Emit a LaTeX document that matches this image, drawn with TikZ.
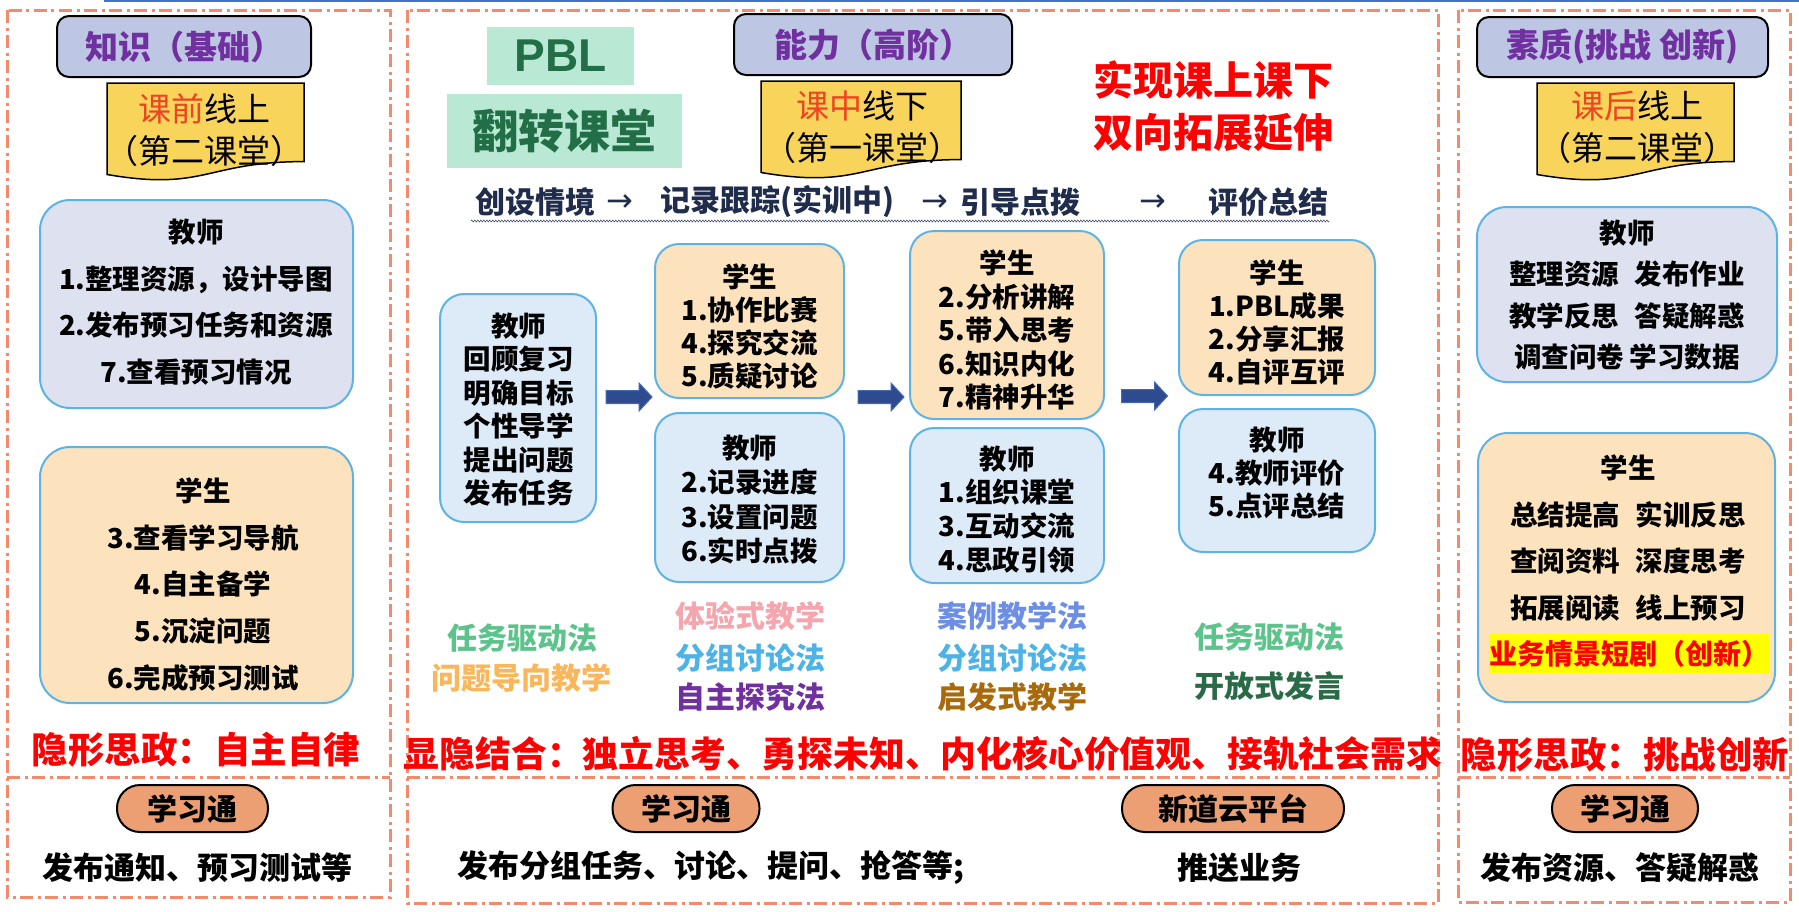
\documentclass[tikz,border=0pt]{standalone}
\usepackage{fontspec}
\setmainfont{Noto Sans CJK SC}
\newfontfamily\arrowfont{DejaVu Sans}
\newfontfamily\latinfont{Liberation Sans}
\usetikzlibrary{decorations.pathmorphing}
\newcommand\myfs[2]{\fontsize{#1}{#2}\selectfont}
\definecolor{dashc}{HTML}{F28A6E}
\definecolor{titlefill}{HTML}{BDC6E2}
\definecolor{titlepurple}{HTML}{7030A0}
\definecolor{docfill}{HTML}{F8D45A}
\definecolor{docred}{HTML}{EE4422}
\definecolor{lavfill}{HTML}{DEE1F0}
\definecolor{peachfill}{HTML}{FCE3BD}
\definecolor{bluefill}{HTML}{DDEAF8}
\definecolor{boxline}{HTML}{5DB3E4}
\definecolor{pblfill}{HTML}{B9E8D5}
\definecolor{pbltext}{HTML}{216E47}
\definecolor{navy}{HTML}{1F2C4C}
\definecolor{arrowfill}{HTML}{2F4B8F}
\definecolor{arrowline}{HTML}{4169B8}
\definecolor{pillfill}{HTML}{EC9F72}
\definecolor{mgreen}{HTML}{5CC38B}
\definecolor{morange}{HTML}{F9B65A}
\definecolor{mpink}{HTML}{F4A5AD}
\definecolor{mblue}{HTML}{4DB2E6}
\definecolor{mpurple}{HTML}{7030A0}
\definecolor{mcorn}{HTML}{6C8FE5}
\definecolor{mbrown}{HTML}{A86A0C}
\definecolor{mdgreen}{HTML}{2A6B47}
\definecolor{topblue}{HTML}{4472C4}
\definecolor{hlyellow}{HTML}{FFFF00}
\definecolor{redc}{HTML}{FF0000}
\tikzset{
  dashbox/.style={draw=dashc, line width=3, dash pattern=on 13pt off 4.5pt on 3pt off 4.5pt},
  titlebox/.style={rectangle, draw=black, line width=2, fill=titlefill, rounded corners=12, inner sep=0, text=titlepurple, font=\myfs{33}{40}\bfseries},
  docshape/.style={draw=black, line width=1.5, fill=docfill},
  doctext/.style={font=\myfs{33}{42}, align=center, inner sep=0},
  rbox/.style={rectangle, draw=boxline, line width=2, rounded corners=24, inner sep=0},
  bigbox/.style={rbox, rounded corners=30},
  boxtext/.style={align=center, inner sep=0},
  redtext/.style={text=redc, font=\myfs{36.5}{40}\bfseries, inner sep=0},
  proc/.style={text=navy, font=\myfs{30}{34}\bfseries, inner sep=0},
  procarrow/.style={text=navy, font=\arrowfont\myfs{32}{34}, inner sep=0},
  method/.style={font=\myfs{30}{34}\bfseries, inner sep=0},
  pill/.style={rectangle, draw=black, line width=2, fill=pillfill, rounded corners=23, inner sep=0, minimum height=47, font=\myfs{30}{34}\bfseries},
  bottomtext/.style={font=\myfs{31}{34}\bfseries, inner sep=0},
  blockarrow/.style={draw=arrowline, line width=1, fill=arrowfill},
  pblbox/.style={rectangle, fill=pblfill, inner sep=0, text=pbltext, font=\myfs{46}{50}\bfseries},
}
\begin{document}
\begin{tikzpicture}[x=1pt,y=-1pt]
\useasboundingbox (0,0) rectangle (1799,911);
\draw[topblue, line width=1.5] (104,0.75) -- (1799,0.75);

% dash-dot frames
\draw[dashbox] (7,10) rectangle (390,897);
\draw[dashbox] (7,777) -- (390,777);
\draw[dashbox] (407,10) rectangle (1438,903);
\draw[dashbox] (407,777) -- (1438,777);
\draw[dashbox] (1458,10) rectangle (1790,902);
\draw[dashbox] (1458,777) -- (1790,777);

% ---------- left column ----------
\node[titlebox, minimum width=254, minimum height=61] (lt) at (184,46.5) {知识（基础）\hspace{18pt}};
\path[docshape] (107,83) -- (304,83) -- (304,161.6) .. controls (205.5,161.6) and (205.5,191.5) .. (107,174.5) -- cycle;
\node[doctext] (ld) at (204,130) {{\color{docred}课前}线上\\（第二课堂）};

\node[bigbox, fill=lavfill, minimum width=313, minimum height=208] (lT) at (196.5,304) {};
\node[boxtext, font=\myfs{27.5}{46.7}\bfseries] (lTt) at (196,302) {教师\\1.整理资源，设计导图\\2.发布预习任务和资源\\7.查看预习情况};
\node[bigbox, fill=peachfill, minimum width=313, minimum height=256] (lS) at (196.5,575) {};
\node[boxtext, font=\myfs{27.5}{46.8}\bfseries] (lSt) at (203,584.5) {学生\\3.查看学习导航\\4.自主备学\\5.沉淀问题\\6.完成预习测试};

\node[redtext] (lr) at (196,750) {隐形思政：自主自律};
\node[pill, minimum width=151] (lp) at (192.5,808.5) {学习通};
\node[bottomtext] (lb) at (197,868) {发布通知、预习测试等};

% ---------- middle column ----------
\node[pblbox, minimum width=147, minimum height=58, font=\latinfont\myfs{46}{50}\bfseries] (pbl) at (560.5,56) {PBL};
\node[pblbox, minimum width=235, minimum height=74] (fz) at (564.5,131) {翻转课堂};
\node[titlebox, minimum width=278, minimum height=61] (mt) at (873,44.5) {能力（高阶）\hspace{22pt}};
\path[docshape] (761,81) -- (961,81) -- (961,159.6) .. controls (861,159.6) and (861,189.5) .. (761,172.5) -- cycle;
\node[doctext] (md) at (862,127.5) {{\color{docred}课中}线下\\（第一课堂）};
\node[text=redc, font=\myfs{40}{52}\bfseries, align=center, inner sep=0] (ext) at (1213,106) {实现课上课下\\双向拓展延伸};

\node[proc] (p1) at (535,202) {创设情境};
\node[procarrow] (pa1) at (620,203) {→};
\node[proc] (p2) at (777,202) {记录跟踪(实训中)};
\node[procarrow] (pa2) at (935,203) {→};
\node[proc] (p3) at (1020,202) {引导点拨};
\node[procarrow] (pa3) at (1153,203) {→};
\node[proc] (p4) at (1268,202) {评价总结};
\coordinate (ul1) at (471,221);
\coordinate (ul2) at (1329,221);
\draw[navy!80, line width=0.6, decorate, decoration={zigzag, segment length=3, amplitude=1}] (ul1) -- (ul2);

\node[rbox, fill=bluefill, minimum width=156, minimum height=228] (mT1) at (518,408) {};
\node[boxtext, font=\myfs{27.5}{33.4}\bfseries] (mT1t) at (518.5,409.5) {教师\\回顾复习\\明确目标\\个性导学\\提出问题\\发布任务};

\node[rbox, fill=peachfill, minimum width=189, minimum height=154] (mS2) at (749.5,321) {};
\node[boxtext, font=\myfs{27.5}{33}\bfseries] (mS2t) at (749.5,326.5) {学生\\1.协作比赛\\4.探究交流\\5.质疑讨论};
\node[rbox, fill=bluefill, minimum width=189, minimum height=169] (mT2) at (749.5,497.5) {};
\node[boxtext, font=\myfs{27.5}{34.3}\bfseries] (mT2t) at (749.5,499.5) {教师\\2.记录进度\\3.设置问题\\6.实时点拨};

\node[rbox, fill=peachfill, minimum width=194, minimum height=188] (mS3) at (1007,325) {};
\node[boxtext, font=\myfs{27.5}{33.5}\bfseries] (mS3t) at (1007,330) {学生\\2.分析讲解\\5.带入思考\\6.知识内化\\7.精神升华};
\node[rbox, fill=bluefill, minimum width=194, minimum height=155] (mT3) at (1007,505.5) {};
\node[boxtext, font=\myfs{27.5}{33.7}\bfseries] (mT3t) at (1007,509.5) {教师\\1.组织课堂\\3.互动交流\\4.思政引领};

\node[rbox, fill=peachfill, minimum width=196, minimum height=155] (mS4) at (1277,317.5) {};
\node[boxtext, font=\myfs{27.5}{33}\bfseries] (mS4t) at (1277,322.5) {学生\\1.PBL成果\\2.分享汇报\\4.自评互评};
\node[rbox, fill=bluefill, minimum width=196, minimum height=143] (mT4) at (1277,480.5) {};
\node[boxtext, font=\myfs{27.5}{33}\bfseries] (mT4t) at (1277,473) {教师\\4.教师评价\\5.点评总结};

% block arrows between the stages
\coordinate (a1) at (629,397);
\coordinate (a2) at (881,397);
\coordinate (a3) at (1144.5,396);
\foreach \c in {a1,a2,a3}{
  \draw[blockarrow, shift={(\c)}] (-23,-6.5) -- (10,-6.5) -- (10,-14) -- (23,0) -- (10,14) -- (10,6.5) -- (-23,6.5) -- cycle;
}

\node[method, text=mgreen] (m1) at (522,638) {任务驱动法};
\node[method, text=morange] (m2) at (521,678) {问题导向教学};
\node[method, text=mpink] (m3) at (750,616) {体验式教学};
\node[method, text=mblue] (m4) at (750,658) {分组讨论法};
\node[method, text=mpurple] (m5) at (750,697) {自主探究法};
\node[method, text=mcorn] (m6) at (1012,616) {案例教学法};
\node[method, text=mblue] (m7) at (1012,658) {分组讨论法};
\node[method, text=mbrown] (m8) at (1012,697) {启发式教学};
\node[method, text=mgreen] (m9) at (1269,637) {任务驱动法};
\node[method, text=mdgreen] (m10) at (1269,686) {开放式发言};

\node[redtext, font=\myfs{35.8}{40}\bfseries] (mr) at (923,754) {显隐结合：独立思考、勇探未知、内化核心价值观、接轨社会需求};
\node[pill, minimum width=147] (mp1) at (686,808.5) {学习通};
\node[bottomtext] (mb1) at (711,868) {发布分组任务、讨论、提问、抢答等;};
\node[pill, minimum width=222] (mp2) at (1233,808.5) {新道云平台};
\node[bottomtext] (mb2) at (1239,868) {推送业务};

% ---------- right column ----------
\node[titlebox, minimum width=291, minimum height=60] (rt) at (1622.5,47) {素质(挑战 创新)};
\path[docshape] (1537,83) -- (1734,83) -- (1734,161.6) .. controls (1635.5,161.6) and (1635.5,191.5) .. (1537,174.5) -- cycle;
\node[doctext] (rd) at (1637,127.5) {{\color{docred}课后}线上\\（第二课堂）};

\node[bigbox, fill=lavfill, minimum width=300, minimum height=175] (rT) at (1627,294.5) {};
\node[boxtext, font=\myfs{27.5}{41.3}\bfseries] (rTt) at (1627,295) {教师\\整理资源\hspace{0.55em}发布作业\\教学反思\hspace{0.55em}答疑解惑\\调查问卷\hspace{0.2em}学习数据};
\node[bigbox, fill=peachfill, minimum width=297, minimum height=269] (rS) at (1626.5,567.5) {};
\node[boxtext, font=\myfs{27.5}{46.7}\bfseries] (rSt) at (1628,538) {学生\\总结提高\hspace{0.55em}实训反思\\查阅资料\hspace{0.55em}深度思考\\拓展阅读\hspace{0.55em}线上预习};
\node[fill=hlyellow, inner sep=0, minimum width=280, minimum height=39, text=redc, font=\myfs{28}{32}\bfseries] (hl) at (1629,653.5) {业务情景短剧（创新）};

\node[redtext] (rr) at (1625,755) {隐形思政：挑战创新};
\node[pill, minimum width=146] (rp) at (1625,808.5) {学习通};
\node[bottomtext] (rb) at (1620,868) {发布资源、答疑解惑};
\end{tikzpicture}
\end{document}
